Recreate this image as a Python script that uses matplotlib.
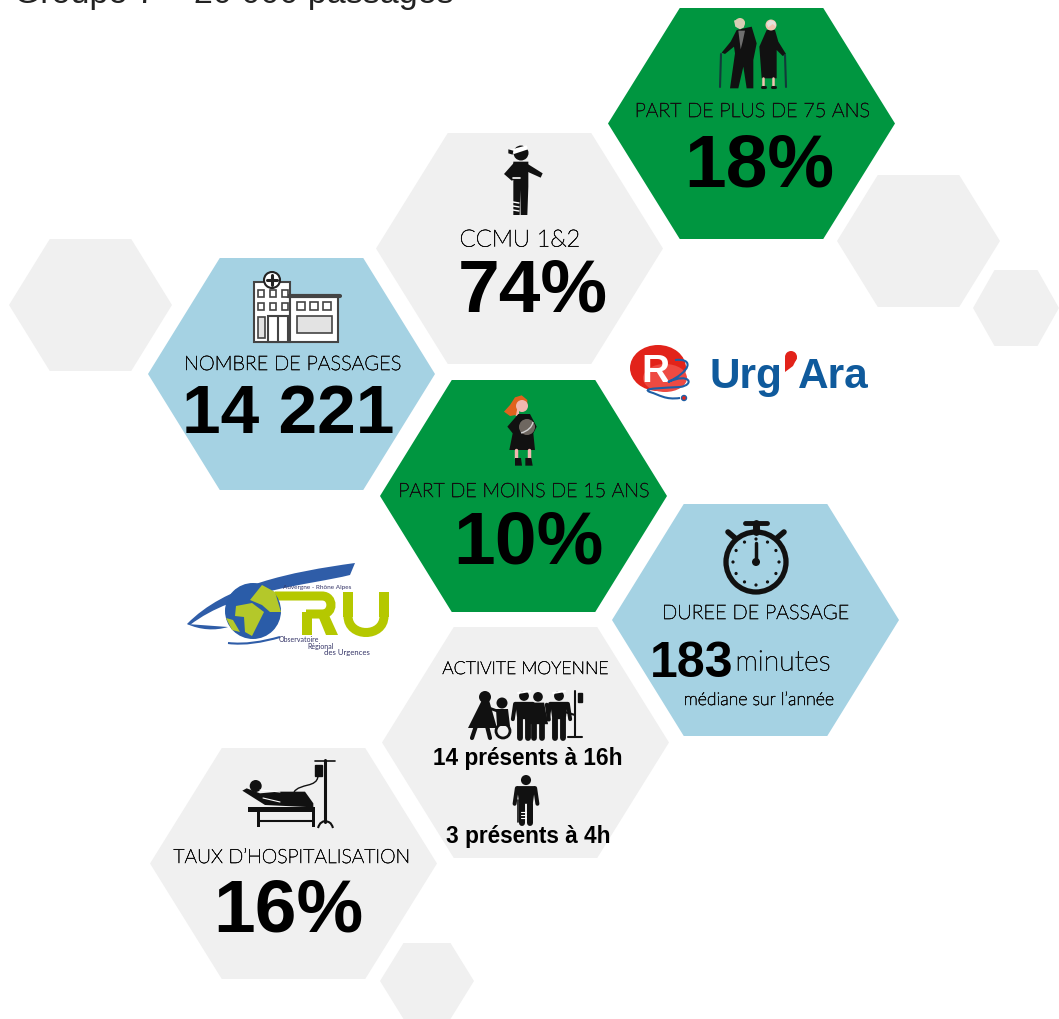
import matplotlib
matplotlib.use('Agg')
import matplotlib.pyplot as plt
import matplotlib.patheffects as pe
from matplotlib.patches import Polygon, Circle, Rectangle, Ellipse, PathPatch
from matplotlib.path import Path
import numpy as np

# texts of the infographic
title = 'Groupe 7 – 20 000 passages'
labels_top = ['PART DE PLUS DE 75 ANS', 'CCMU 1&2', 'NOMBRE DE PASSAGES', 'PART DE MOINS DE 15 ANS',
              'DUREE DE PASSAGE', 'TAUX D’HOSPITALISATION']
values = ['18%', '74%', '14 221', '10%', '183', '16%']
activite = ['ACTIVITE MOYENNE', '14 présents à 16h', '3 présents à 4h']

GREEN = '#009640'
BLUE = '#A5D2E3'
GRAY = '#F0F0F0'
DARK = '#111111'
LIME = '#B5C800'
NAVY = '#2F5DA8'
SKIN = '#F2C4B0'

fig = plt.figure(figsize=(10.59, 10.19), dpi=100)
ax = fig.add_axes([0, 0, 1, 1])
ax.set_xlim(0, 1059)
ax.set_ylim(1019, 0)
ax.axis('off')


def hexa(x0, x1, y0, y1, color):
    d = (x1 - x0) * 0.25
    ym = (y0 + y1) / 2
    pts = [(x0, ym), (x0 + d, y0), (x1 - d, y0), (x1, ym), (x1 - d, y1), (x0 + d, y1)]
    ax.add_patch(Polygon(pts, closed=True, fc=color, ec='none', zorder=1))


def line(xs, ys, lw=2, color=DARK, z=4):
    ax.plot(xs, ys, color=color, lw=lw, solid_capstyle='round', zorder=z)


def poly(pts, color=DARK, z=4):
    ax.add_patch(Polygon(pts, closed=True, fc=color, ec='none', zorder=z))


def icon(ox, oy, pts, color=DARK, z=4):
    # points lus sur un zoom x3 de l'icone
    poly([(ox + a / 3, oy + b / 3) for a, b in pts], color, z)


def curve(pts, color, lw, z=5):
    # pts : depart puis triplets de points de controle
    codes = [Path.MOVETO] + [Path.CURVE4] * (len(pts) - 1)
    ax.add_patch(PathPatch(Path(pts, codes), fc='none', ec=color, lw=lw, capstyle='butt', zorder=z))


def disc(x, y, r, color=DARK, z=5):
    ax.add_patch(Circle((x, y), r, fc=color, ec='none', zorder=z))


def person(x, top, h, skirt=False, color=DARK):
    # silhouette simple, tete + buste + jambes
    r = h * 0.105
    w = h * 0.19
    disc(x, top + r, r, color)
    yb = top + 2.2 * r
    ym = top + h * 0.6
    if skirt:
        poly([(x - w * 0.7, yb), (x + w * 0.7, yb), (x + w * 1.15, ym + h * 0.1), (x - w * 1.15, ym + h * 0.1)], color)
    else:
        poly([(x - w, yb), (x + w, yb), (x + w * 0.75, ym), (x - w * 0.75, ym)], color)
    line([x - w * 0.42, x - w * 0.42], [ym, top + h], lw=h * 0.09, color=color)
    line([x + w * 0.42, x + w * 0.42], [ym, top + h], lw=h * 0.09, color=color)
    line([x - w, x - w * 1.25], [yb + 2, ym], lw=h * 0.06, color=color)
    line([x + w, x + w * 1.25], [yb + 2, ym], lw=h * 0.06, color=color)


# hexagones
hexa(608, 895, 8, 239, GREEN)
hexa(376, 663, 133, 364, GRAY)
hexa(148, 435, 258, 490, BLUE)
hexa(380, 667, 380, 612, GREEN)
hexa(612, 899, 504, 736, BLUE)
hexa(382, 669, 627, 858, GRAY)
hexa(150, 437, 748, 979, GRAY)
hexa(9, 172, 239, 371, GRAY)
hexa(837, 1000, 175, 307, GRAY)
hexa(973, 1059, 270, 346, GRAY)
hexa(380, 474, 943, 1019, GRAY)

# titre coupe en haut
ax.text(14, 3, title, fontsize=24.5, family='Liberation Sans', color='#222222', va='baseline', ha='left', zorder=6)

# textes fins
fin = [pe.withStroke(linewidth=0.45, foreground='#111111')]
light = dict(family='Lato', weight='light', color='#111111', ha='center', va='center', zorder=6, path_effects=fin)
bold = dict(family='Liberation Sans', weight='bold', color='black', ha='center', va='baseline', zorder=6)
ax.text(752, 112, labels_top[0], fontsize=14.3, **light)
ax.text(520, 240, labels_top[1], fontsize=17, **light)
ax.text(293, 365, labels_top[2], fontsize=14.4, **light)
ax.text(524, 492, labels_top[3], fontsize=14.2, **light)
ax.text(756, 614, labels_top[4], fontsize=14.4, **light)
ax.text(292, 858, labels_top[5], fontsize=14.1, **light)
ax.text(525, 669, activite[0], fontsize=12.8, **light)

ax.text(759, 186, values[0], fontsize=54, **bold)
ax.text(533, 311, values[1], fontsize=54, **bold)
ax.text(288, 433, values[2], fontsize=50, **bold)
ax.text(528, 563, values[3], fontsize=54, **bold)
ax.text(692, 677, values[4], fontsize=36, **bold)
ax.text(288, 931, values[5], fontsize=54, **bold)
ax.text(783, 663, 'minutes', fontsize=20.5, **light)
ax.text(759, 700, 'médiane sur l’année', fontsize=12.8, **light)
ax.text(528, 765, activite[1], fontsize=16.3, **bold)
ax.text(528, 843, activite[2], fontsize=16.3, **bold)

# couple age
ox, oy = 710, 10
icon(ox, oy, [(80, 60), (125, 50), (140, 100), (130, 150), (130, 235), (110, 235), (100, 170), (85, 235), (60, 235),
              (75, 130), (72, 110), (45, 132), (35, 128), (62, 95)])
icon(ox, oy, [(85, 62), (105, 62), (98, 95), (92, 118)], '#6E6E6E', z=5)
disc(740, 23, 5, '#E8C9A8')
icon(ox, oy, [(72, 32), (90, 25), (104, 35), (102, 52), (90, 58), (76, 50)], '#D8CDB5', z=5)
icon(ox, oy, [(170, 60), (195, 60), (205, 95), (228, 132), (218, 138), (200, 120), (200, 205), (155, 205), (148, 110)])
disc(771, 25, 5.5, SKIN)
icon(ox, oy, [(170, 40), (180, 30), (195, 35), (198, 50), (188, 42), (175, 52)], '#E4E2DA', z=6)
line([763, 763], [78, 86], lw=1.8, color=SKIN)
line([773, 773], [78, 86], lw=1.8, color=SKIN)
line([762, 765], [87, 87], lw=2.2)
line([772, 775], [87, 87], lw=2.2)
line([721, 720], [54, 87], lw=1.5, color='#123A3A')
line([785, 786], [55, 87], lw=1.5, color='#123A3A')

# blesse CCMU
ox, oy = 490, 140
disc(521, 153, 7.5)
icon(ox, oy, [(70, 65), (115, 65), (115, 140), (112, 225), (92, 225), (91, 150), (89, 225), (70, 225)])
icon(ox, oy, [(110, 70), (158, 100), (152, 113), (112, 95)])
icon(ox, oy, [(72, 68), (42, 102), (65, 122), (92, 112)])
icon(ox, oy, [(58, 30), (110, 16), (114, 28), (72, 42)], 'white', z=6)
icon(ox, oy, [(55, 28), (70, 32), (68, 44), (55, 40)], DARK, z=6)
line([513, 520], [178, 178], lw=1.2, color='white', z=6)
for yy in [202, 206, 210]:
    line([513, 519], [yy, yy + 1], lw=1, color='white', z=6)

# hopital
ax.add_patch(Rectangle((254, 282), 36, 60, fc='white', ec='#444444', lw=1.5, zorder=3))
ax.add_patch(Rectangle((290, 296), 48, 46, fc='white', ec='#444444', lw=1.5, zorder=3))
line([288, 340], [296, 296], lw=3, color='#444444')
ax.add_patch(Circle((272, 280), 8, fc='white', ec='#222222', lw=1.5, zorder=5))
line([272, 272], [275, 285], lw=2.2, color='#222222', z=6)
line([267, 277], [280, 280], lw=2.2, color='#222222', z=6)
for wx in [258, 270, 282]:
    for wy in [290, 303]:
        ax.add_patch(Rectangle((wx, wy), 6, 7, fc='white', ec='#444444', lw=1.2, zorder=4))
for wx in [297, 310, 323]:
    ax.add_patch(Rectangle((wx, 302), 8, 8, fc='white', ec='#444444', lw=1.2, zorder=4))
ax.add_patch(Rectangle((297, 316), 35, 17, fc='#E3E3E3', ec='#444444', lw=1.2, zorder=4))
ax.add_patch(Rectangle((258, 317), 7, 21, fc='#E3E3E3', ec='#444444', lw=1.2, zorder=4))
ax.add_patch(Rectangle((268, 316), 20, 26, fc='white', ec='#444444', lw=1.5, zorder=4))
line([278, 278], [316, 342], lw=1.5, color='#444444', z=5)

# fille
ox, oy = 490, 390
icon(ox, oy, [(60, 45), (75, 22), (95, 16), (112, 30), (112, 45), (85, 40), (78, 75), (60, 78), (42, 65)], '#E0621E')
disc(522, 406, 6, '#F2B8B0', z=5)
line([517, 517], [411, 414], lw=3, color='#F2B8B0', z=3)
icon(ox, oy, [(85, 72), (120, 72), (140, 110), (130, 130), (135, 180), (58, 180), (68, 130), (52, 110)])
line([516, 516], [450, 458], lw=2.5, color='#F2B8B0')
line([529, 529], [450, 458], lw=2.5, color='#F2B8B0')
icon(ox, oy, [(75, 204), (93, 204), (96, 227), (75, 227)])
icon(ox, oy, [(106, 204), (124, 204), (128, 227), (106, 227)])
disc(527, 427, 8, '#6E6760', z=6)
curve([(521, 433), (528, 431), (532, 427), (533, 422)], '#D0D0D0', 1, z=7)

# chrono
ax.add_patch(Circle((756, 562), 30, fc='none', ec=DARK, lw=3.8, zorder=4))
line([745, 767], [523, 523], lw=3.5)
line([756, 756], [523, 532], lw=5)
line([728, 735], [532, 538], lw=4)
line([784, 777], [532, 538], lw=4)
line([756, 756], [543, 562], lw=2.5)
disc(756, 562, 4)
for a in np.arange(0, 360, 30):
    disc(756 + 23 * np.cos(np.radians(a)), 562 + 23 * np.sin(np.radians(a)), 1.6)

# groupe activite
poly([(482, 700), (489, 700), (497, 728), (468, 728)])
disc(485, 697, 6)
line([476, 472], [726, 738], lw=3)
line([487, 490], [726, 738], lw=3)
line([489, 503], [708, 713], lw=2)
disc(502, 703, 5.5)
poly([(496, 709), (508, 709), (510, 726), (497, 726)])
ax.add_patch(Circle((503, 731), 7, fc='none', ec=DARK, lw=2, zorder=5))
person(524, 691, 47)
person(538, 692, 46, skirt=True)
person(559, 691, 47)
line([518, 530], [693, 691], lw=1.5, color='white', z=6)
line([553, 565], [693, 691], lw=1.5, color='white', z=6)
line([575, 575], [691, 737], lw=1.5)
line([568, 582], [737, 737], lw=1.5)
line([565, 575], [712, 715], lw=1.5)
ax.add_patch(Rectangle((578, 693), 4, 9, fc=DARK, ec=DARK, lw=1, zorder=5))

# personne seule
person(526, 775, 48)
line([518, 518], [800, 822], lw=1.2)
for yy in [812, 815, 818]:
    line([521, 526], [yy, yy], lw=0.8, color='white', z=6)

# lit
ox, oy = 235, 750
disc(255.7, 786, 6)
icon(ox, oy, [(22, 122), (35, 115), (75, 130), (130, 125), (210, 125), (235, 160), (235, 172), (90, 165)])
line([260, 280], [790, 792], lw=0.8, color='white', z=6)
line([263, 280], [798, 802], lw=0.8, color='white', z=6)
icon(ox, oy, [(40, 172), (240, 172), (240, 185), (40, 185)])
icon(ox, oy, [(65, 180), (76, 180), (76, 232), (65, 232)])
icon(ox, oy, [(230, 180), (241, 180), (241, 232), (230, 232)])
line([258, 313], [821, 821], lw=1.5)
line([325, 325], [760, 822], lw=2.2)
curve([(318, 828), (320, 822), (322, 822), (325, 821)], DARK, 1.5)
curve([(333, 828), (331, 822), (329, 822), (325, 821)], DARK, 1.5)
line([315, 335], [761, 761], lw=1.2)
ax.add_patch(Rectangle((315, 765), 7, 11, fc=DARK, ec=DARK, lw=1, zorder=5))
curve([(318, 776), (317, 788), (300, 783), (294, 792)], DARK, 1)

# logo ORU
eye = Path([(187, 624), (225, 585), (290, 572), (355, 563), (350, 575), (310, 585), (235, 590), (190, 625), (187, 624)],
           [Path.MOVETO, Path.CURVE4, Path.CURVE4, Path.CURVE4, Path.LINETO, Path.CURVE4, Path.CURVE4, Path.CURVE4, Path.CLOSEPOLY])
ax.add_patch(PathPatch(eye, fc=NAVY, ec='none', zorder=3))
low = Path([(187, 624), (200, 630), (215, 631), (228, 627), (187, 624)],
           [Path.MOVETO, Path.CURVE4, Path.CURVE4, Path.CURVE4, Path.CLOSEPOLY])
ax.add_patch(PathPatch(low, fc=NAVY, ec='none', zorder=3))
curve([(228, 643), (245, 645), (262, 642), (280, 637)], NAVY, 1.5, z=3)
disc(253, 611, 28, '#2A5CA8', z=6)
poly([(262, 585), (275, 592), (281, 612), (270, 612), (262, 605), (250, 600)], '#B4C82A', z=7)
poly([(236, 606), (252, 603), (264, 612), (258, 624), (252, 636), (245, 632), (244, 617), (235, 616)], '#B4C82A', z=7)
poly([(226, 618), (233, 620), (240, 632), (232, 630)], '#B4C82A', z=7)
# R et U du logo
curve([(275, 596), (298, 596), (310, 596), (322, 596), (334, 596), (334, 614), (322, 614), (315, 614), (310, 614), (306, 614)], LIME, 6.5)
ax.add_patch(Rectangle((302, 612), 10, 23, fc=LIME, ec='none', zorder=5))
poly([(317, 613), (328, 613), (338, 635), (326, 635)], LIME, z=5)
ax.add_patch(Rectangle((343, 592), 10, 25, fc=LIME, ec='none', zorder=5))
ax.add_patch(Rectangle((379, 592), 10, 25, fc=LIME, ec='none', zorder=5))
curve([(348, 616), (348, 638), (384, 638), (384, 616)], LIME, 6.5)
ax.text(283, 587, 'Auvergne - Rhône Alpes', fontsize=4.6, family='Lato', color='#333366', ha='left', va='center', zorder=8)
ax.text(279, 639, 'Observatoire', fontsize=5.0, family='Lato', color='#333366', ha='left', va='center', zorder=8)
ax.text(307, 646, 'Régional', fontsize=5.0, family='Lato', color='#333366', ha='left', va='center', zorder=8)
ax.text(324, 653, 'des Urgences', fontsize=5.6, family='Lato', color='#333366', ha='left', va='center', zorder=8)

# logo Urg'Ara
ax.add_patch(Ellipse((658, 368), 56, 46, fc='#E2231A', ec='none', zorder=3))
ax.add_patch(Ellipse((665, 378), 44, 28, fc='#EE4A42', ec='none', zorder=3))
ax.text(655, 382, 'R', fontsize=28, family='Liberation Sans', weight='bold', color='white', ha='center', va='baseline', zorder=4)
curve([(675, 360), (695, 358), (690, 372), (668, 382), (690, 372), (695, 385), (680, 387), (665, 388), (640, 388), (650, 392),
       (660, 395), (665, 400), (680, 398)], '#1F5FA5', 1.5)
ax.add_patch(Circle((684, 398), 2.5, fc='#E2231A', ec='#1F5FA5', lw=1, zorder=6))
ax.text(709, 388, 'Urg', fontsize=30.5, family='Liberation Sans', weight='bold', color='#0F5A9C', ha='left', va='baseline', zorder=4)
ax.text(869, 388, 'Ara', fontsize=30.5, family='Liberation Sans', weight='bold', color='#0F5A9C', ha='right', va='baseline', zorder=4)
disc(791, 357, 6, '#E2231A')
poly([(785, 358), (797, 358), (793, 366), (785, 372)], '#E2231A', z=5)

fig.savefig('out.png', dpi=100, facecolor='white')
